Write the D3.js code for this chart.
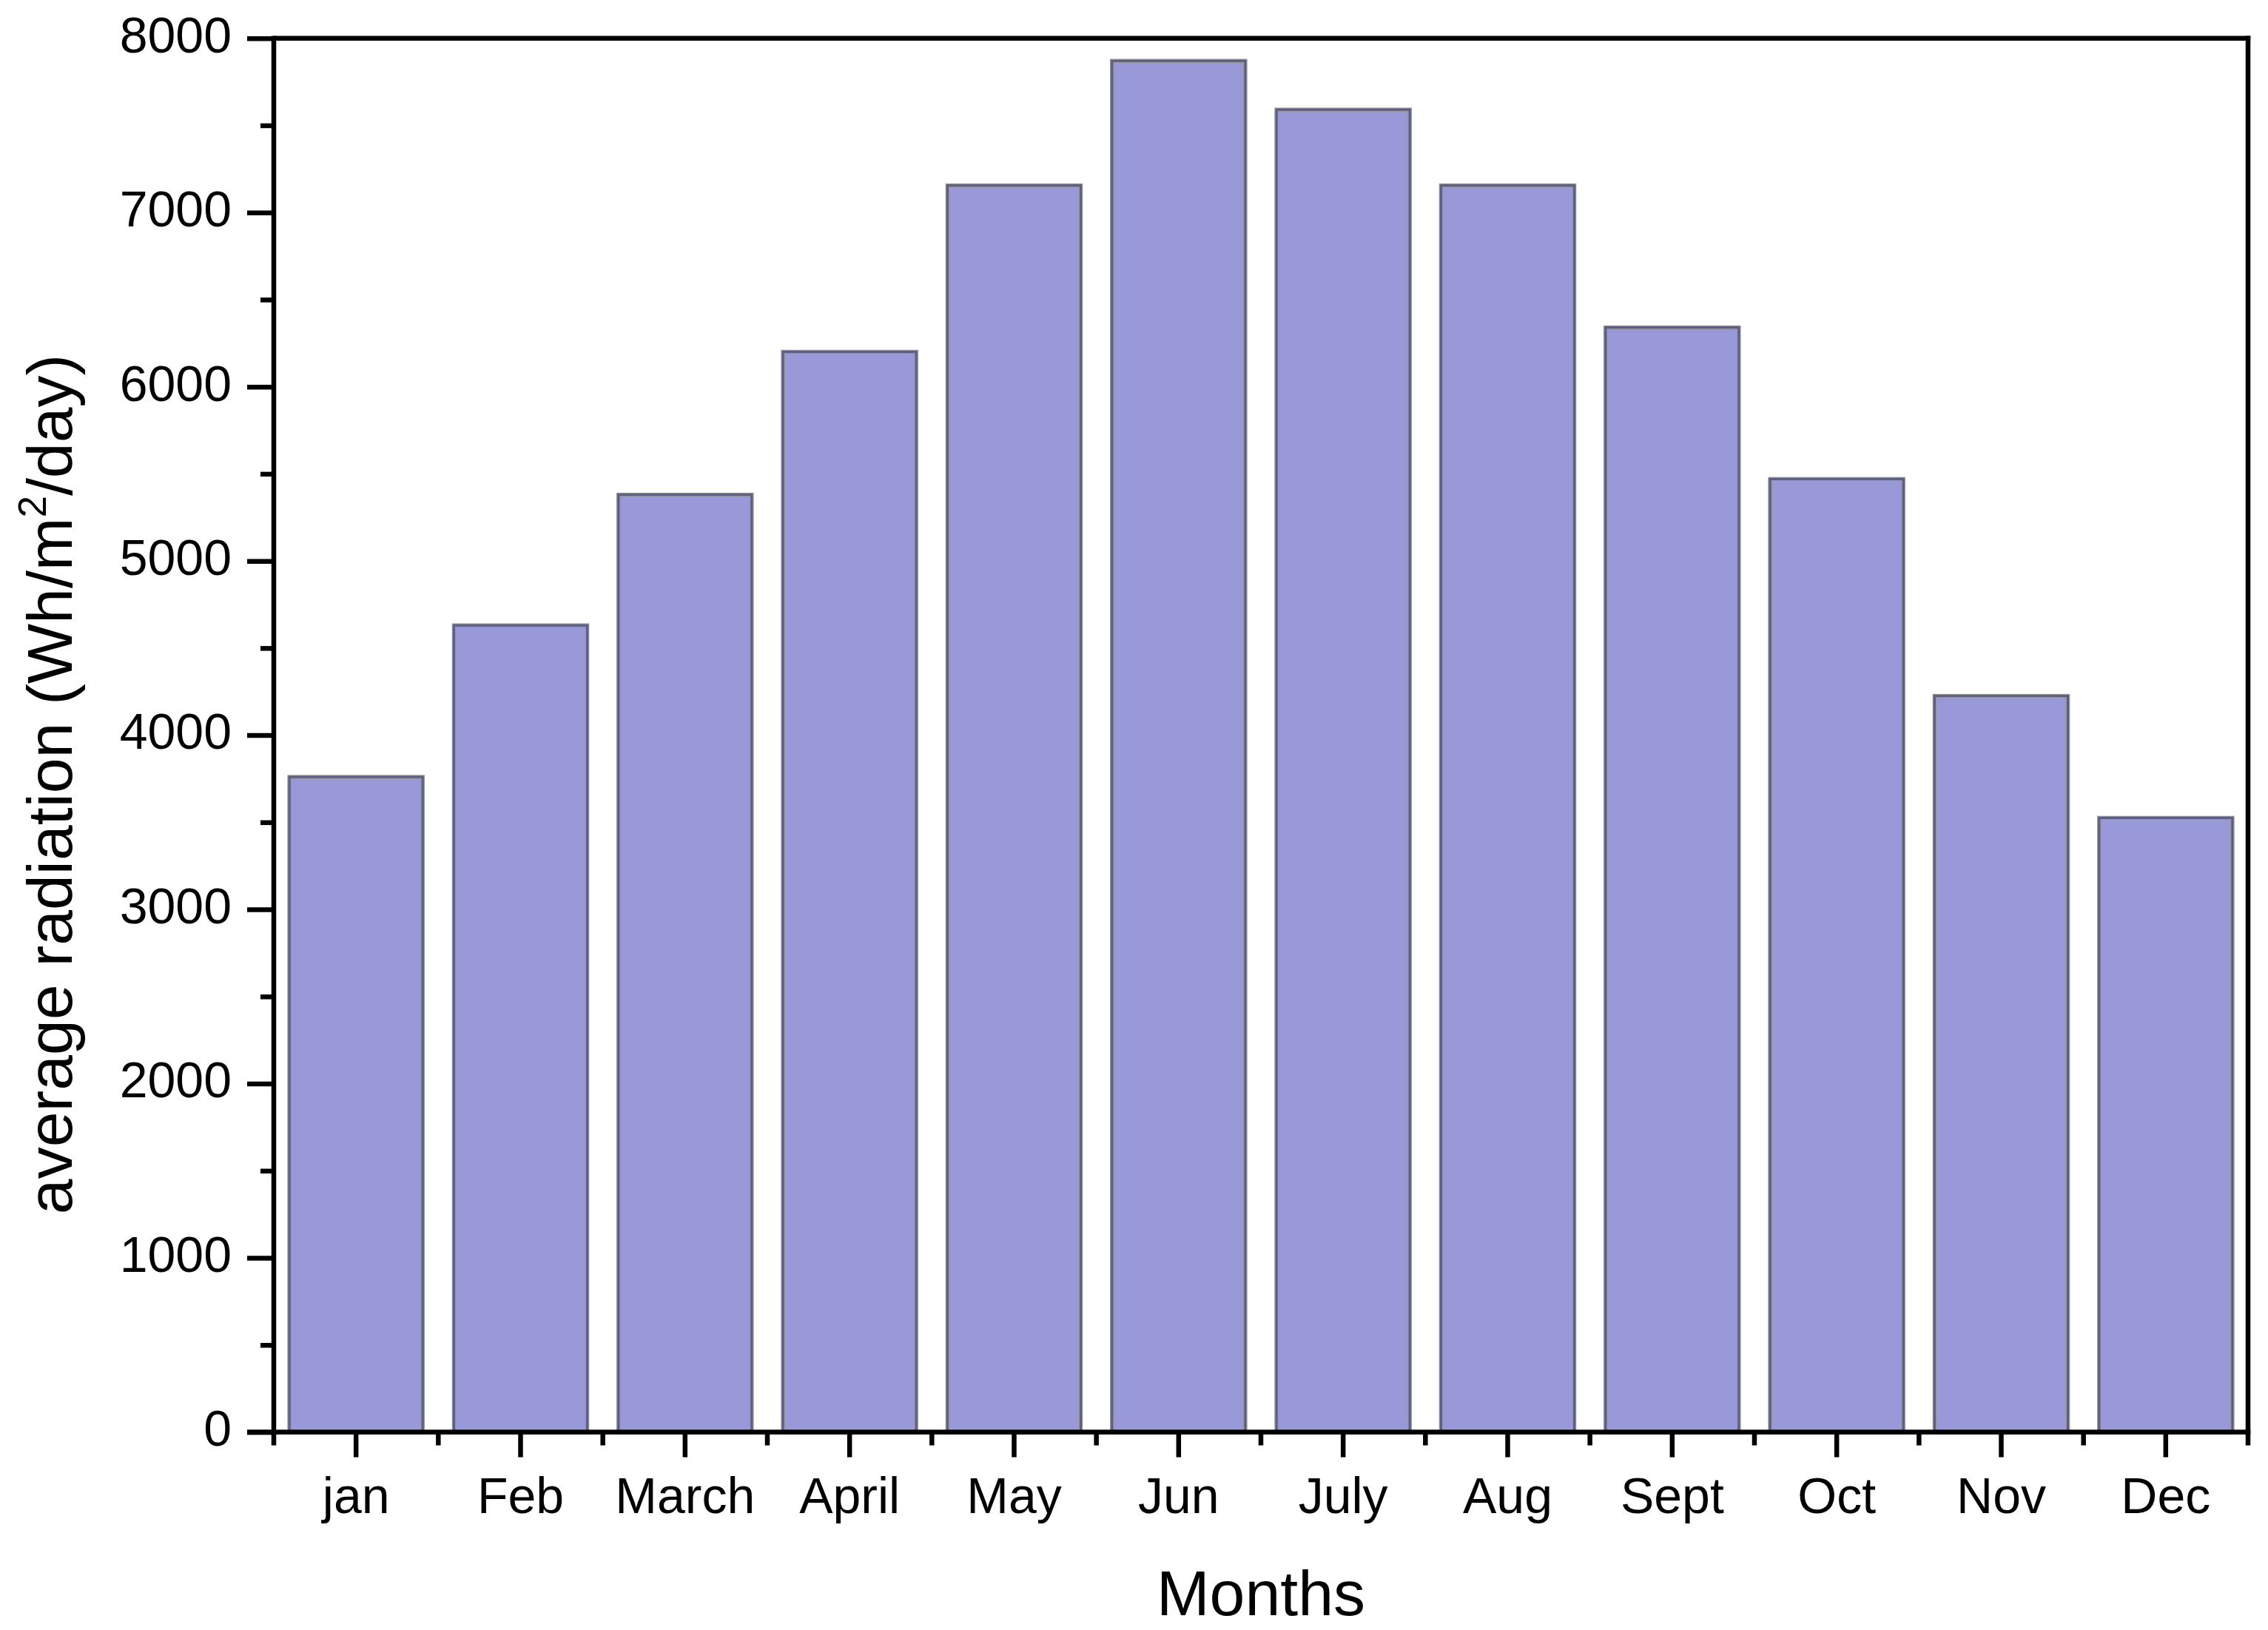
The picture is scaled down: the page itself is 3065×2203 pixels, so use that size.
<!DOCTYPE html>
<html>
<head>
<meta charset="utf-8">
<script src="https://cdn.jsdelivr.net/npm/d3@7"></script>
<style>
  html, body { margin: 0; padding: 0; background: #fff; }
  svg { display: block; font-family: "Liberation Sans", Arial, Helvetica, sans-serif; }
</style>
</head>
<body>
<svg id="chart" width="3065" height="2203"></svg>
<script>
const months = ["jan", "Feb", "March", "April", "May", "Jun", "July", "Aug", "Sept", "Oct", "Nov", "Dec"];
const radiation = [3760, 4630, 5380, 6200, 7155, 7870, 7590, 7155, 6340, 5470, 4225, 3525];
const yTicks = [0, 1000, 2000, 3000, 4000, 5000, 6000, 7000, 8000];
const yMinorTicks = [500, 1500, 2500, 3500, 4500, 5500, 6500, 7500];
const xTitle = "Months";
const yTitleMain = "average radiation (Wh/m";
const yTitleSup = "2";
const yTitleEnd = "/day)";

(function () {
const svg = d3.select("#chart");
const pLeft = 370, pRight = 3038, pTop = 51.7, pBottom = 1935.5;
const axisW = 6.5;

const x = d3.scaleBand().domain(months).range([pLeft, pRight]).paddingInner(0.19).paddingOuter(0.095);
const y = d3.scaleLinear().domain([0, 8000]).range([pBottom, pTop]);

// bars
const bars = svg.append("g");
bars.selectAll("rect.outer").data(radiation).join("rect")
  .attr("class", "outer")
  .attr("x", (d, i) => x(months[i]))
  .attr("y", d => y(d))
  .attr("width", x.bandwidth())
  .attr("height", d => y(0) - y(d))
  .attr("fill", "#9999d9")
  .attr("stroke", "#969696")
  .attr("stroke-width", 5.5);
bars.selectAll("rect.inner").data(radiation).join("rect")
  .attr("class", "inner")
  .attr("x", (d, i) => x(months[i]))
  .attr("y", d => y(d))
  .attr("width", x.bandwidth())
  .attr("height", d => y(0) - y(d))
  .attr("fill", "none")
  .attr("stroke", "#5d5d8a")
  .attr("stroke-width", 3);

// frame (top and right)
svg.append("line").attr("x1", pLeft).attr("x2", pRight + axisW / 2).attr("y1", pTop).attr("y2", pTop)
  .attr("stroke", "#000").attr("stroke-width", axisW);
svg.append("line").attr("x1", pRight).attr("x2", pRight).attr("y1", pTop - axisW / 2).attr("y2", pBottom + 18)
  .attr("stroke", "#000").attr("stroke-width", axisW);

// y axis
const yAxis = d3.axisLeft(y).tickValues(yTicks).tickSize(36).tickPadding(21).tickFormat(d3.format("d"));
const gy = svg.append("g").attr("transform", `translate(${pLeft},0)`).call(yAxis);
gy.select(".domain").remove();
gy.append("line").attr("x1", 0).attr("x2", 0).attr("y1", pTop - axisW / 2).attr("y2", pBottom + 18)
  .attr("stroke", "#000").attr("stroke-width", axisW);
gy.selectAll(".tick line").attr("stroke", "#000").attr("stroke-width", axisW);
gy.selectAll(".tick text").attr("font-size", 68).attr("fill", "#000").attr("dy", "0.27em")
  .attr("font-family", "Liberation Sans, Arial, sans-serif");
const yMinor = d3.axisLeft(y).tickValues(yMinorTicks).tickSize(18).tickFormat("");
const gym = svg.append("g").attr("transform", `translate(${pLeft},0)`).call(yMinor);
gym.select(".domain").remove();
gym.selectAll(".tick line").attr("stroke", "#000").attr("stroke-width", axisW);

// x axis
const xAxis = d3.axisBottom(x).tickSize(34).tickPadding(40);
const gx = svg.append("g").attr("transform", `translate(0,${pBottom})`).call(xAxis);
gx.select(".domain").remove();
gx.append("line").attr("x1", pLeft - 36).attr("x2", pRight + axisW / 2).attr("y1", 0).attr("y2", 0)
  .attr("stroke", "#000").attr("stroke-width", axisW);
gx.selectAll(".tick line").attr("stroke", "#000").attr("stroke-width", axisW);
gx.selectAll(".tick text").attr("font-size", 68).attr("fill", "#000").attr("dy", "0")
  .attr("y", 2045 - pBottom)
  .attr("font-family", "Liberation Sans, Arial, sans-serif");
// minor x ticks at category boundaries
const boundaries = months.slice(1).map(m => x(m) - x.step() * x.paddingInner() / 2);
gx.selectAll("line.minor").data(boundaries).join("line")
  .attr("class", "minor")
  .attr("x1", d => d).attr("x2", d => d).attr("y1", 0).attr("y2", 18)
  .attr("stroke", "#000").attr("stroke-width", axisW);

// titles
svg.append("text").attr("x", (pLeft + pRight) / 2).attr("y", 2183)
  .attr("text-anchor", "middle").attr("font-size", 86).attr("fill", "#000").text(xTitle);

const yt = svg.append("text")
  .attr("transform", "translate(97,1060) rotate(-90)")
  .attr("text-anchor", "middle").attr("font-size", 86).attr("fill", "#000");
yt.append("tspan").text(yTitleMain);
yt.append("tspan").attr("font-size", 53).attr("dy", -35).text(yTitleSup);
yt.append("tspan").attr("dy", 35).text(yTitleEnd);
})();
</script>
</body>
</html>
